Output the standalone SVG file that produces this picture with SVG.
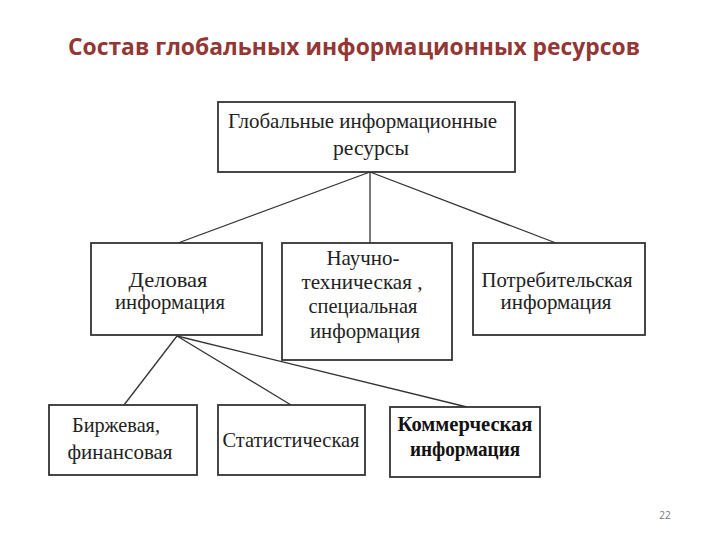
<svg xmlns="http://www.w3.org/2000/svg" width="720" height="540" viewBox="0 0 720 540">
<style>
.box{fill:#fff;stroke:#333;stroke-width:1.8}
.t{font-family:"Liberation Serif","DejaVu Serif",serif;font-size:21px;fill:#222}
.b{font-weight:bold;fill:#111}
.ln{stroke:#333;stroke-width:1.3;fill:none}
</style>
<rect width="720" height="540" fill="#fff"/>
<text x="354" y="55" text-anchor="middle" font-family="'Open Sans','Noto Sans',sans-serif" font-weight="bold" font-size="23" fill="#943634" textLength="572" lengthAdjust="spacingAndGlyphs">Состав глобальных информационных ресурсов</text>
<g id="connectors">
<line class="ln" x1="370" y1="172" x2="178" y2="243"/>
<line class="ln" x1="370" y1="172" x2="370" y2="243"/>
<line class="ln" x1="370" y1="172" x2="556" y2="243"/>
<line class="ln" x1="177" y1="336" x2="124" y2="405"/>
<line class="ln" x1="177" y1="336" x2="291" y2="405"/>
<line class="ln" x1="177" y1="336" x2="467" y2="407"/>
</g>
<g id="n-global">
<rect class="box" x="218" y="102" width="297" height="70"/>
<text class="t" x="228" y="128" textLength="269" lengthAdjust="spacingAndGlyphs">Глобальные информационные</text>
<text class="t" x="371" y="155" text-anchor="middle" textLength="76" lengthAdjust="spacingAndGlyphs">ресурсы</text>
</g>
<g id="n-delovaya">
<rect class="box" x="91" y="243" width="171" height="92"/>
<text class="t" x="168" y="287" text-anchor="middle" textLength="79" lengthAdjust="spacingAndGlyphs">Деловая</text>
<text class="t" x="170" y="309" text-anchor="middle" textLength="110" lengthAdjust="spacingAndGlyphs">информация</text>
</g>
<g id="n-nauchno">
<rect class="box" x="282" y="243" width="170" height="117"/>
<text class="t" x="363" y="265" text-anchor="middle" textLength="73" lengthAdjust="spacingAndGlyphs">Научно-</text>
<text class="t" x="362" y="289" text-anchor="middle" textLength="121" lengthAdjust="spacingAndGlyphs">техническая ,</text>
<text class="t" x="363" y="313" text-anchor="middle" textLength="109" lengthAdjust="spacingAndGlyphs">специальная</text>
<text class="t" x="365" y="338" text-anchor="middle" textLength="110" lengthAdjust="spacingAndGlyphs">информация</text>
</g>
<g id="n-potreb">
<rect class="box" x="473" y="243" width="172" height="92"/>
<text class="t" x="557" y="287" text-anchor="middle" textLength="151" lengthAdjust="spacingAndGlyphs">Потребительская</text>
<text class="t" x="556" y="309" text-anchor="middle" textLength="111" lengthAdjust="spacingAndGlyphs">информация</text>
</g>
<g id="n-birzh">
<rect class="box" x="49" y="405" width="148" height="70"/>
<text class="t" x="116" y="432" text-anchor="middle" textLength="88" lengthAdjust="spacingAndGlyphs">Биржевая,</text>
<text class="t" x="120" y="459" text-anchor="middle" textLength="105" lengthAdjust="spacingAndGlyphs">финансовая</text>
</g>
<g id="n-stat">
<rect class="box" x="218" y="405" width="147" height="70"/>
<text class="t" x="291" y="447" text-anchor="middle" textLength="137" lengthAdjust="spacingAndGlyphs">Статистическая</text>
</g>
<g id="n-komm">
<rect class="box" x="390" y="407" width="150" height="70"/>
<text class="t b" x="465" y="431" text-anchor="middle" textLength="135" lengthAdjust="spacingAndGlyphs">Коммерческая</text>
<text class="t b" x="465" y="456" text-anchor="middle" textLength="110" lengthAdjust="spacingAndGlyphs">информация</text>
</g>
<text x="665" y="519" text-anchor="middle" font-family="'Open Sans','Noto Sans',sans-serif" font-size="10" fill="#777">22</text>
</svg>
